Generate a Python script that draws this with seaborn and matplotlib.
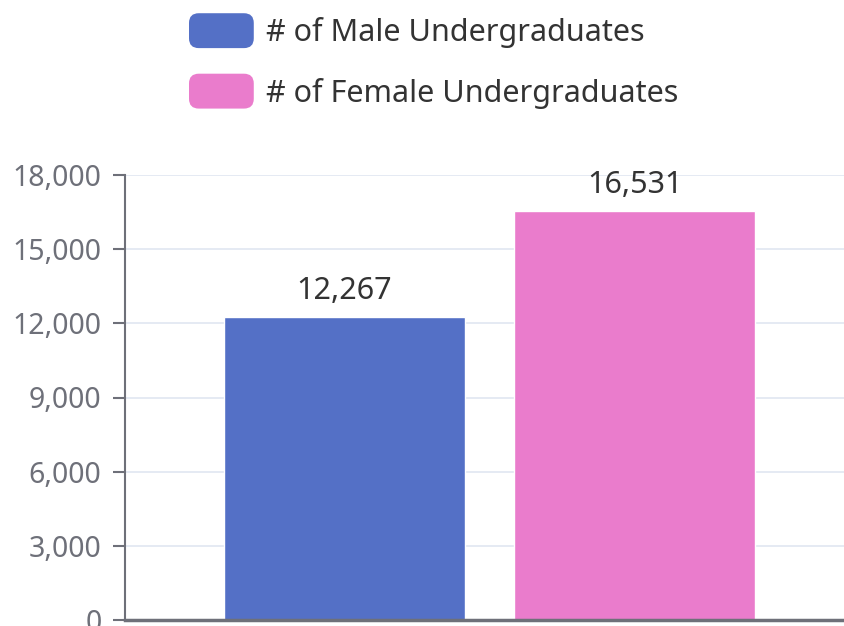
import numpy as np
import pandas as pd
import matplotlib
matplotlib.use("Agg")
import matplotlib.pyplot as plt
import seaborn as sns
from matplotlib.patches import FancyBboxPatch, Patch
from matplotlib.legend_handler import HandlerPatch
from matplotlib.ticker import FuncFormatter, MultipleLocator

# data
series = ['# of Male Undergraduates', '# of Female Undergraduates']
values = [12267, 16531]
colors = ['#5470c6', '#ea7ccc']
category = ['Undergraduates']

df = pd.DataFrame({'cat': category * len(series), 'series': series, 'value': values})

sns.set_style('white')
plt.rcParams['font.family'] = ['Noto Sans', 'DejaVu Sans']

fig = plt.figure(figsize=(8.44, 6.26), dpi=100)
W, H = 844, 626
# axes in pixel coords: left 125, right 854, top 175, bottom 620
ax = fig.add_axes([125 / W, (H - 620) / H, (854 - 125) / W, (620 - 175) / H])

sns.barplot(data=df, x='cat', y='value', hue='series', palette=colors,
            width=0.796, gap=0.169, ax=ax, legend=False, saturation=1)

ax.set_xlim(-0.5, 0.5)
ax.set_ylim(0, 18000)
ax.yaxis.set_major_locator(MultipleLocator(3000))
ax.yaxis.set_major_formatter(FuncFormatter(lambda v, p: f'{int(v):,}'))
ax.set_xlabel('')
ax.set_ylabel('')
ax.set_xticks([])
ax.grid(axis='y', color='#e0e6f1', linewidth=1.2)
ax.set_axisbelow(True)
ax.tick_params(axis='y', colors='#6e7079', labelsize=20.5, length=9, width=1.5,
               direction='out', pad=8, left=True)
for lbl in ax.get_yticklabels():
    lbl.set_color('#6e7079')

for s in ['top', 'right']:
    ax.spines[s].set_visible(False)
ax.spines['left'].set_color('#6e7079')
ax.spines['left'].set_linewidth(1.5)
ax.spines['bottom'].set_color('#6e7079')
ax.spines['bottom'].set_linewidth(2.5)

for cont in ax.containers:
    ax.bar_label(cont, labels=[f'{int(v):,}' for v in cont.datavalues],
                 padding=8, fontsize=22, color='#333333')


def rounded(legend, orig_handle, xdescent, ydescent, width, height, fontsize):
    return FancyBboxPatch((-xdescent, -ydescent - 2), width, height + 4,
                          boxstyle='round,pad=0,rounding_size=7')


handles = [Patch(facecolor=c, edgecolor='none') for c in colors]
fig.legend(handles, series, loc='upper left', bbox_to_anchor=(189 / W, 1 - 16 / H),
           frameon=False, fontsize=22, borderpad=0, borderaxespad=0,
           handlelength=2.12, handleheight=1.1, handletextpad=0.4,
           labelspacing=0.93, labelcolor='#333333',
           handler_map={Patch: HandlerPatch(patch_func=rounded)})

fig.savefig('out.png', dpi=100)
